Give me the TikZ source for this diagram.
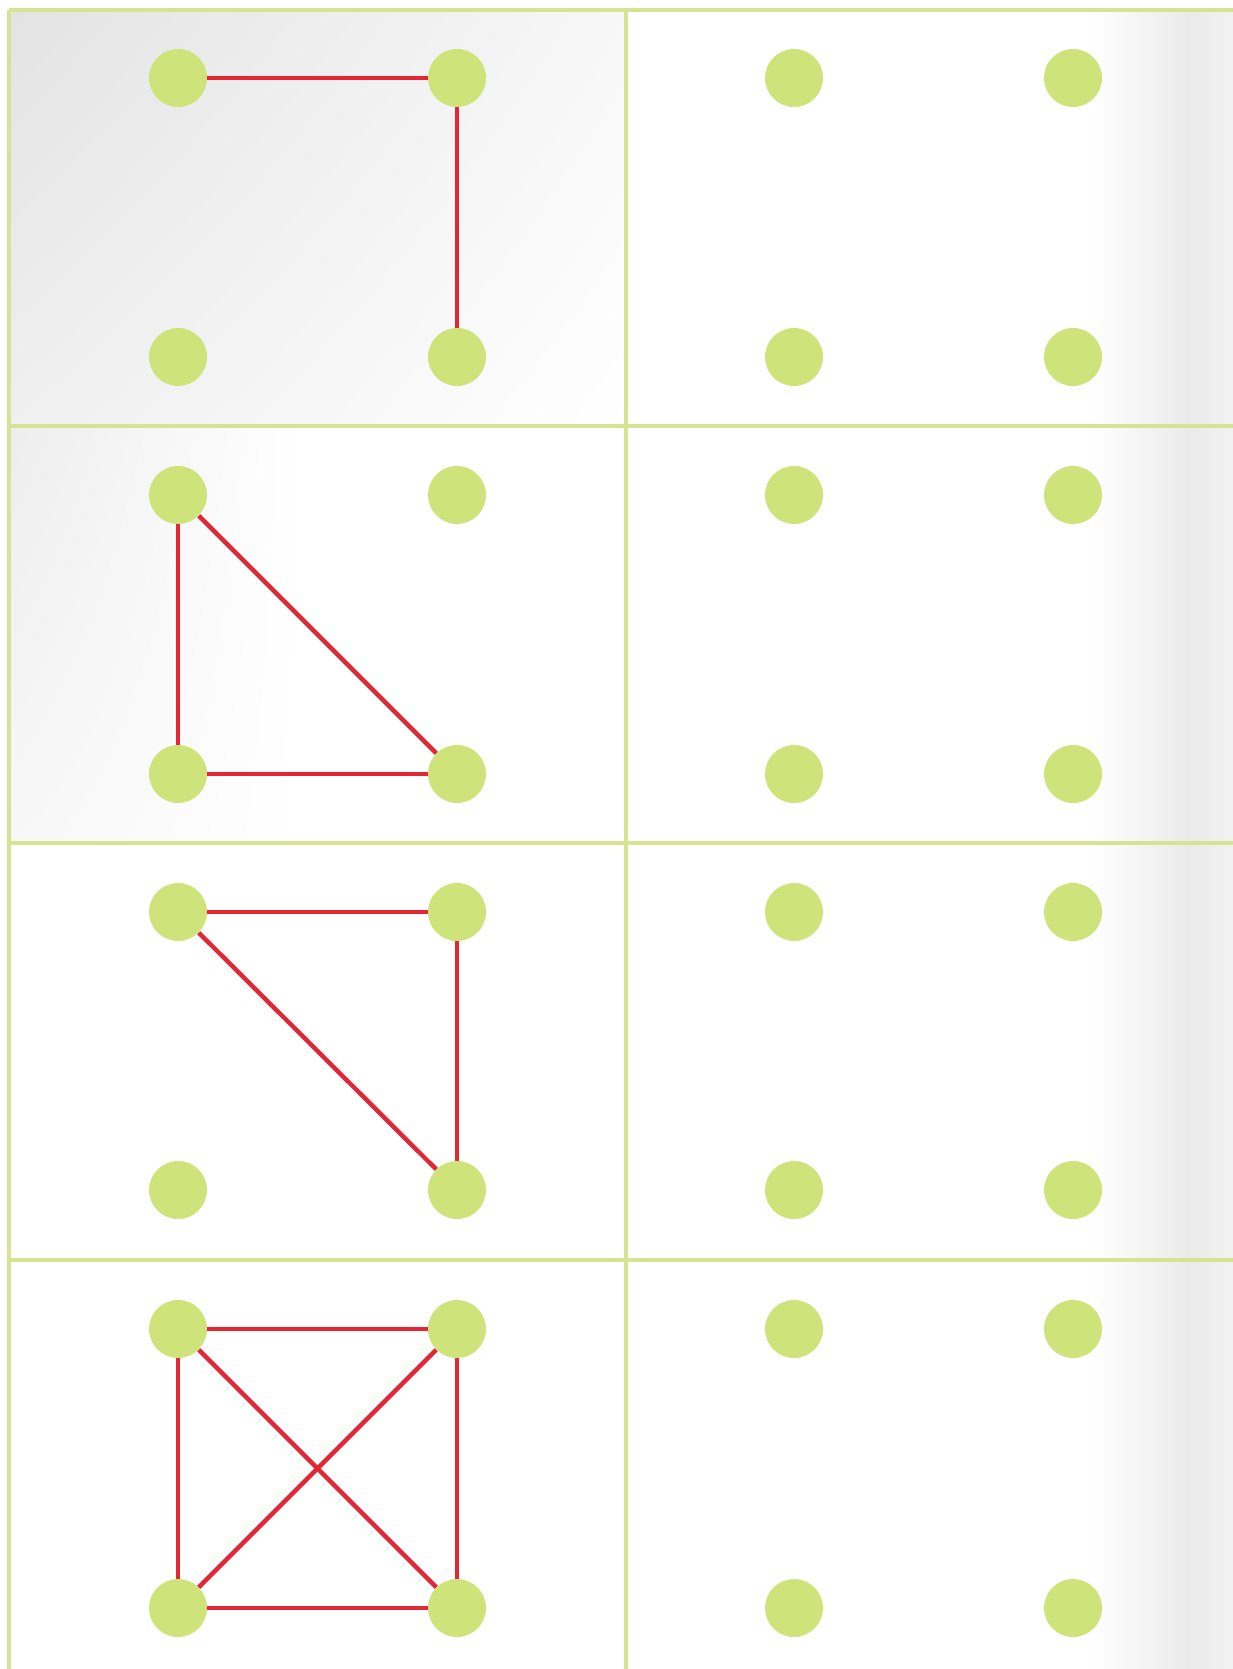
\documentclass[tikz,border=0pt]{standalone}
\usepackage{tikz}
\usetikzlibrary{positioning,shadings}

\definecolor{dotgreen}{RGB}{206,227,122}
\definecolor{gridgreen}{RGB}{212,228,145}
\definecolor{edgered}{RGB}{228,38,52}

\begin{document}
\begin{tikzpicture}[
  x=0.02cm, y=-0.02cm,
  dot/.style={circle, fill=dotgreen, draw=none, inner sep=0pt, minimum size=1.16cm},
  gridline/.style={draw=gridgreen, line width=1.8pt},
  edge/.style={draw=edgered, line width=2.5pt}
]
  \useasboundingbox (0,0) rectangle (1233,1669);
  \fill[white] (0,0) rectangle (1233,1669);

  % soft page shading
  \shade[upper left=black!11, upper right=black!3, lower left=black!6, lower right=white] (9,10) rectangle (626,426);
  \shade[upper left=black!7, upper right=white, lower left=black!3, lower right=white] (9,426) rectangle (300,843);
  \shade[left color=white, right color=black!8] (1090,10) rectangle (1190,1669);
  \shade[left color=black!8, right color=black!5] (1190,10) rectangle (1233,1669);

  % grid
  \draw[gridline] (9,10) -- (1233,10);
  \draw[gridline] (9,10) -- (9,1669);
  \draw[gridline] (626,10) -- (626,1669);
  \draw[gridline] (9,426) -- (1233,426);
  \draw[gridline] (9,843) -- (1233,843);
  \draw[gridline] (9,1260) -- (1233,1260);

  % row 1
  \node[dot] (tl1) at (178,78) {};
  \node[dot] (tr1) at (457,78) {};
  \node[dot] (bl1) at (178,357) {};
  \node[dot] (br1) at (457,357) {};
  \node[dot] (etl1) at (794,78) {};
  \node[dot] (etr1) at (1073,78) {};
  \node[dot] (ebl1) at (794,357) {};
  \node[dot] (ebr1) at (1073,357) {};

  % row 2
  \node[dot] (tl2) at (178,495) {};
  \node[dot] (tr2) at (457,495) {};
  \node[dot] (bl2) at (178,774) {};
  \node[dot] (br2) at (457,774) {};
  \node[dot] (etl2) at (794,495) {};
  \node[dot] (etr2) at (1073,495) {};
  \node[dot] (ebl2) at (794,774) {};
  \node[dot] (ebr2) at (1073,774) {};

  % row 3
  \node[dot] (tl3) at (178,912) {};
  \node[dot] (tr3) at (457,912) {};
  \node[dot] (bl3) at (178,1190) {};
  \node[dot] (br3) at (457,1190) {};
  \node[dot] (etl3) at (794,912) {};
  \node[dot] (etr3) at (1073,912) {};
  \node[dot] (ebl3) at (794,1190) {};
  \node[dot] (ebr3) at (1073,1190) {};

  % row 4
  \node[dot] (tl4) at (178,1329) {};
  \node[dot] (tr4) at (457,1329) {};
  \node[dot] (bl4) at (178,1608) {};
  \node[dot] (br4) at (457,1608) {};
  \node[dot] (etl4) at (794,1329) {};
  \node[dot] (etr4) at (1073,1329) {};
  \node[dot] (ebl4) at (794,1608) {};
  \node[dot] (ebr4) at (1073,1608) {};

  % red strokes
  \draw[edge] (tl1) -- (tr1);
  \draw[edge] (tr1) -- (br1);

  \draw[edge] (tl2) -- (bl2);
  \draw[edge] (tl2) -- (br2);
  \draw[edge] (bl2) -- (br2);

  \draw[edge] (tl3) -- (tr3);
  \draw[edge] (tl3) -- (br3);
  \draw[edge] (tr3) -- (br3);

  \draw[edge] (tl4) -- (tr4);
  \draw[edge] (tl4) -- (bl4);
  \draw[edge] (tr4) -- (br4);
  \draw[edge] (bl4) -- (br4);
  \draw[edge] (tl4) -- (br4);
  \draw[edge] (tr4) -- (bl4);
\end{tikzpicture}
\end{document}
